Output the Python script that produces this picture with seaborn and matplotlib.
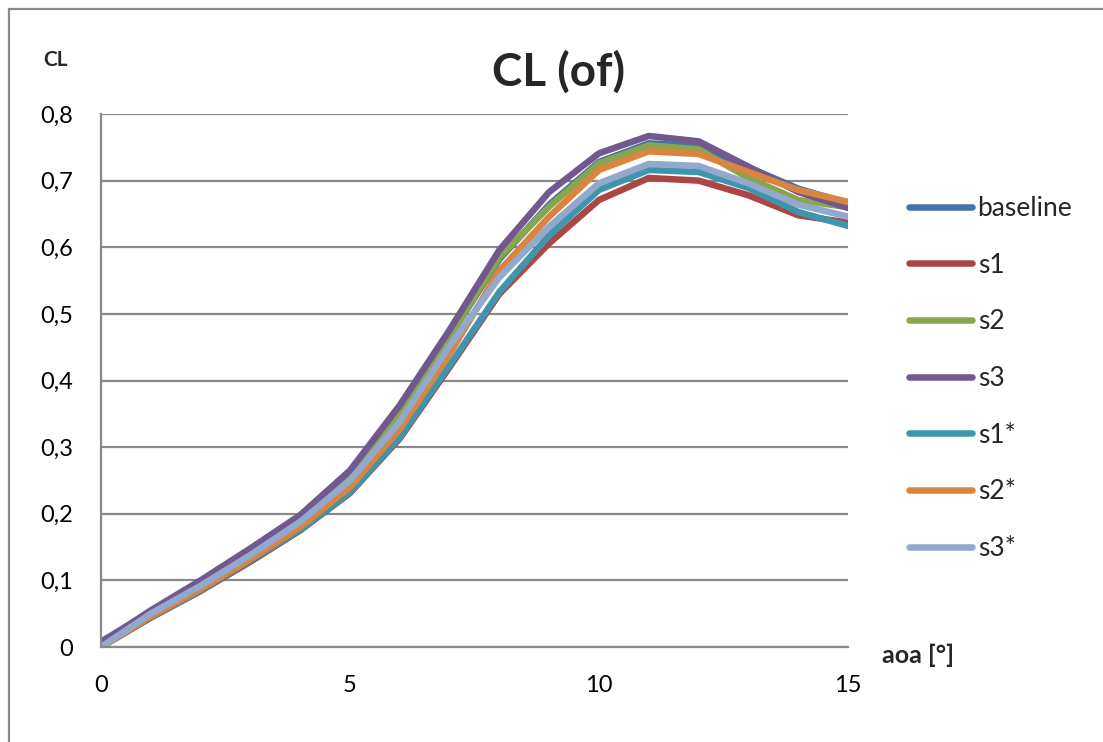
import matplotlib
matplotlib.use("Agg")
import matplotlib.pyplot as plt
import seaborn as sns
import pandas as pd
from matplotlib.patches import Rectangle
from matplotlib.lines import Line2D

aoa = list(range(0, 16))
baseline = [0.008, 0.053, 0.097, 0.143, 0.194, 0.258, 0.350, 0.466, 0.582, 0.664, 0.728, 0.756, 0.752, 0.720, 0.688, 0.666]
s1       = [0.000, 0.044, 0.084, 0.128, 0.175, 0.231, 0.313, 0.420, 0.530, 0.606, 0.671, 0.704, 0.700, 0.678, 0.648, 0.637]
s2       = [0.005, 0.053, 0.097, 0.143, 0.194, 0.258, 0.350, 0.466, 0.585, 0.661, 0.726, 0.753, 0.747, 0.704, 0.671, 0.660]
s3       = [0.006, 0.055, 0.100, 0.148, 0.198, 0.265, 0.363, 0.476, 0.596, 0.683, 0.741, 0.767, 0.759, 0.721, 0.683, 0.659]
s1s      = [0.000, 0.045, 0.085, 0.130, 0.176, 0.232, 0.315, 0.423, 0.533, 0.618, 0.686, 0.716, 0.713, 0.689, 0.653, 0.632]
s2s      = [0.000, 0.046, 0.087, 0.132, 0.180, 0.240, 0.327, 0.440, 0.565, 0.646, 0.716, 0.744, 0.740, 0.713, 0.686, 0.668]
s3s      = [0.000, 0.050, 0.092, 0.138, 0.188, 0.250, 0.338, 0.452, 0.555, 0.631, 0.696, 0.725, 0.722, 0.696, 0.664, 0.646]

series_names = ["baseline", "s1", "s2", "s3", "s1*", "s2*", "s3*"]
series_values = [baseline, s1, s2, s3, s1s, s2s, s3s]
colors = ["#4572A7", "#AA4643", "#89A54E", "#71588F", "#3D96AE", "#DB843D", "#92A8CD"]
yticks = [0, 0.1, 0.2, 0.3, 0.4, 0.5, 0.6, 0.7, 0.8]
ytick_labels = ["0", "0,1", "0,2", "0,3", "0,4", "0,5", "0,6", "0,7", "0,8"]
xticks = [0, 5, 10, 15]

rows = []
for name, vals in zip(series_names, series_values):
    for a, v in zip(aoa, vals):
        rows.append({"aoa": a, "CL": v, "series": name})
df = pd.DataFrame(rows)

sns.set_style("white")
plt.rcParams["font.family"] = ["Lato", "DejaVu Sans"]

W, H = 1103, 742
fig = plt.figure(figsize=(W / 100, H / 100), dpi=100)
ax = fig.add_axes([101 / W, 1 - 647 / H, (848 - 101) / W, (647 - 114) / H])

LW = 4.7
sns.lineplot(data=df, x="aoa", y="CL", hue="series", hue_order=series_names,
             palette=colors, linewidth=LW, ax=ax, legend=False,
             sort=False, estimator=None)
for ln in ax.lines:
    ln.set_solid_capstyle("round")
    ln.set_solid_joinstyle("round")

ax.set_xlim(0, 15)
ax.set_ylim(0, 0.8)
ax.set_xticks(xticks)
ax.set_xticklabels([str(x) for x in xticks], fontsize=17)
ax.set_yticks(yticks)
ax.set_yticklabels(ytick_labels, fontsize=17)
ax.yaxis.grid(True, color="#898989", linewidth=1.6)
ax.xaxis.grid(False)
for side in ["top", "right"]:
    ax.spines[side].set_visible(False)
for side in ["left", "bottom"]:
    ax.spines[side].set_color("#898989")
    ax.spines[side].set_linewidth(1.6)
ax.tick_params(axis="both", which="major", direction="out", length=6, width=1.6,
               color="#898989", labelcolor="black")
ax.tick_params(axis="x", pad=14)
ax.tick_params(axis="y", pad=14)
ax.set_xlabel("")
ax.set_ylabel("")

fig.text(559 / W, 1 - 72 / H, "CL (of)", fontsize=33, fontweight="bold",
         ha="center", va="center")
fig.text(56 / W, 1 - 60 / H, "CL", fontsize=15, fontweight="bold",
         ha="center", va="center")
fig.text(918 / W, 1 - 655 / H, "aoa [°]", fontsize=18, fontweight="bold",
         ha="center", va="center")

handles = [Line2D([0], [0], color=c, linewidth=LW, solid_capstyle="round") for c in colors]
leg = fig.legend(handles, series_names, loc="upper left",
                 bbox_to_anchor=(909 / W, 1 - 196 / H), frameon=False,
                 fontsize=19, handlelength=2.4, handletextpad=0.2,
                 labelspacing=1.2, borderaxespad=0, borderpad=0)

fig.patches.append(Rectangle((9 / W, -0.1), 1.2, 1 - 9 / H + 0.1,
                             transform=fig.transFigure, fill=False,
                             edgecolor="#898989", linewidth=1.6))

fig.savefig("out.png", dpi=100)
